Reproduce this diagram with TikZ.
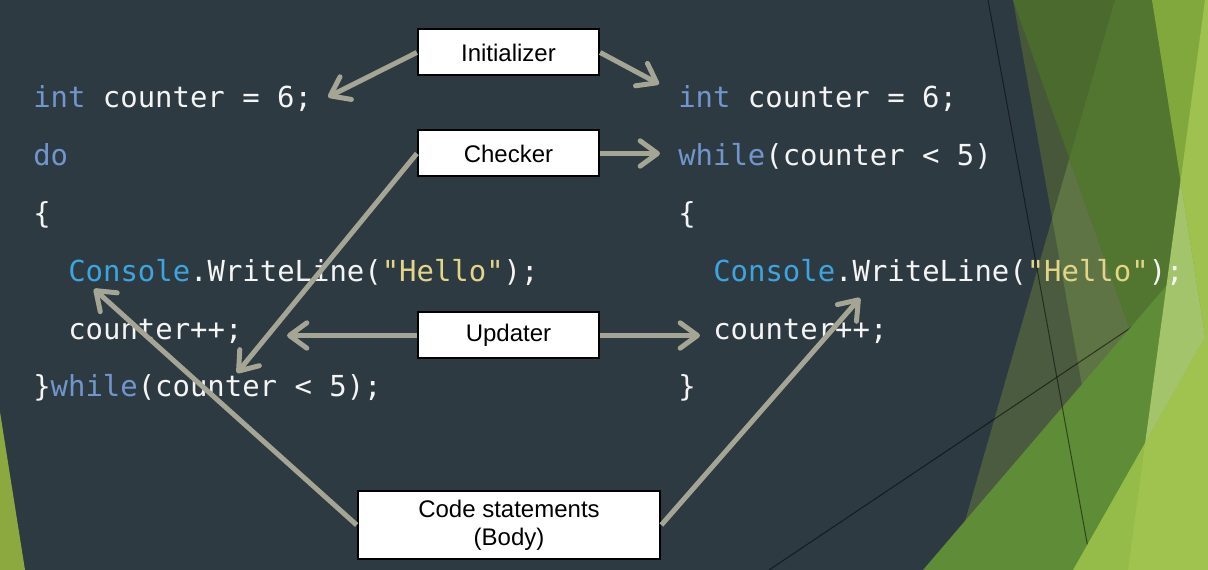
\documentclass[tikz,border=0pt]{standalone}
\usepackage{fontspec}
\setmainfont{Liberation Sans}
\newfontfamily\codefont{DejaVu Sans Mono}
\usetikzlibrary{arrows.meta}
\definecolor{slate}{HTML}{2E3A42}
\definecolor{codewhite}{HTML}{F4F4F4}
\definecolor{kw}{HTML}{7096CB}
\definecolor{cls}{HTML}{3DA5DE}
\definecolor{str}{HTML}{E2D587}
\definecolor{arrowgray}{HTML}{A4A594}
\definecolor{olA}{HTML}{4B5B3F}
\definecolor{olB}{HTML}{465839}
\definecolor{olC}{HTML}{5E7444}
\definecolor{dgA}{HTML}{4A6A2E}
\definecolor{dgB}{HTML}{52762F}
\definecolor{mgA}{HTML}{5E8C37}
\definecolor{paleA}{HTML}{A3C46A}
\definecolor{lgA}{HTML}{80A83C}
\definecolor{lgB}{HTML}{9EC14F}
\definecolor{ygA}{HTML}{95BC48}
\definecolor{ygB}{HTML}{A0C350}
\definecolor{leftg}{HTML}{8CA940}
\begin{document}
\begin{tikzpicture}[x=0.75pt,y=-0.75pt,
  code/.style={font=\codefont\fontsize{21.7pt}{26pt}\selectfont, text=codewhite, anchor=base west, inner sep=0pt},
  lbl/.style={draw=black, line width=1.5pt, fill=white, font=\fontsize{18pt}{21pt}\selectfont, text=black, inner sep=0pt, align=center},
  smallbox/.style={lbl, minimum width=136pt, minimum height=34.5pt},
  conn/.style={draw=arrowgray, line width=3.75pt, -{Straight Barb[length=13pt,width=19pt,round]}},
  thinline/.style={draw=black, line width=0.75pt}
]
\useasboundingbox (0,0) rectangle (1208,570);
% background
\fill[slate] (0,0) rectangle (1208,570);
\fill[leftg] (0,412) -- (25,570) -- (0,570) -- cycle;
\fill[olA] (1115,0) -- (951,570) -- (1208,570) -- (1208,0) -- cycle;
\fill[olB] (1013,0) -- (1115,570) -- (1208,570) -- (1208,0) -- cycle;
\fill[olC] (1052.1,218.4) -- (1115,570) -- (1208,570) -- (1208,0) -- (1115,0) -- cycle;
\fill[dgA] (1013,0) -- (1208,549) -- (1208,0) -- cycle;
\fill[dgB] (1069.3,158.6) -- (1208,549) -- (1208,0) -- (1115,0) -- cycle;
\draw[thinline, opacity=0.55] (769,570) -- (1208,276);
\fill[mgA] (923,570) -- (1208,237) -- (1208,570) -- cycle;
\draw[thinline, opacity=0.5] (988,0) -- (1092,570);
\fill[paleA] (1205,0) -- (1128,570) -- (1208,570) -- (1208,0) -- cycle;
\fill[lgA] (1152,0) -- (1208,354) -- (1208,0) -- cycle;
\fill[lgB] (1180.6,181) -- (1208,354) -- (1208,0) -- (1205,0) -- cycle;
\fill[ygA] (1073,570) -- (1208,332) -- (1208,570) -- cycle;
\fill[ygB] (1145.2,442.8) -- (1128,570) -- (1208,570) -- (1208,332) -- cycle;
% code, do-while
\node[code] (a1) at (33,108) {\textcolor{kw}{int} counter = 6;};
\node[code] (a2) at (33,166) {\textcolor{kw}{do}};
\node[code] (a3) at (33,224) {\{};
\node[code] (a4) at (68,282) {\textcolor{cls}{Console}.WriteLine(\textcolor{str}{"Hello"});};
\node[code] (a5) at (68,340) {counter++;};
\node[code] (a6) at (33,397) {\}\textcolor{kw}{while}(counter < 5);};
% code, while
\node[code] (b1) at (678,108) {\textcolor{kw}{int} counter = 6;};
\node[code] (b2) at (678,166) {\textcolor{kw}{while}(counter < 5)};
\node[code] (b3) at (678,224) {\{};
\node[code] (b4) at (713,282) {\textcolor{cls}{Console}.WriteLine(\textcolor{str}{"Hello"});};
\node[code] (b5) at (713,340) {counter++;};
\node[code] (b6) at (678,397) {\}};
% labels
\node[smallbox] (ini) at (508.5,52.5) {Initializer};
\node[smallbox] (chk) at (508.5,153.5) {Checker};
\node[smallbox] (upd) at (508.5,335.5) {Updater};
\node[lbl, minimum width=227pt, minimum height=50.5pt] (body) at (509,525) {Code statements\\(Body)};
% arrow ends
\coordinate (t1) at (328,97);
\coordinate (t2) at (659,84);
\coordinate (t3) at (660,153.5);
\coordinate (t4) at (237,373);
\coordinate (t5) at (287,335.5);
\coordinate (t6) at (700,335.5);
\coordinate (t7) at (94,289);
\coordinate (t8) at (860,298);
\draw[conn] (ini.west) -- (t1);
\draw[conn] (ini.east) -- (t2);
\draw[conn] (chk.east) -- (t3);
\draw[conn] (chk.west) -- (t4);
\draw[conn] (upd.west) -- (t5);
\draw[conn] (upd.east) -- (t6);
\draw[conn] (body.west) -- (t7);
\draw[conn] (body.east) -- (t8);
\end{tikzpicture}
\end{document}
